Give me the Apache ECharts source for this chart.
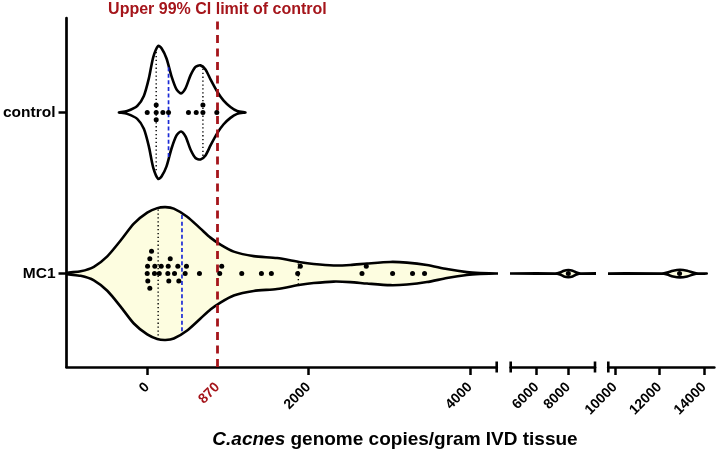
<!DOCTYPE html>
<html><head><meta charset="utf-8">
<script src="https://cdn.jsdelivr.net/npm/echarts@6/dist/echarts.min.js"></script>
<style>html,body{margin:0;padding:0;background:#fff}#c{width:728px;height:455px}</style>
</head><body><div id="c"></div>
<script>
// ---------------- data ----------------
const groups = ['MC1', 'control'];
const controlValues = [0, 111, 111, 111, 194, 264, 511, 607, 690, 690, 862];
const mc1Values = [0, 4, 7, 32, 32, 53, 90, 94, 149, 173, 255, 260, 267, 285, 338, 379, 391, 470, 486, 647,
  898, 923, 1171, 1415, 1538, 1864, 1897, 2661, 2714, 3040, 3287, 3436, 8000, 12900];
// violin outlines: x value and half width (in group-band units)
const controlDensityX = [-351, -248, -124, -42, 20, 74, 136, 177, 239, 301, 363, 418, 474, 536, 598, 660, 722, 784, 866, 944, 1031, 1114, 1217];
const controlDensityW = [0, 0.009, 0.040, 0.102, 0.211, 0.342, 0.413, 0.398, 0.335, 0.224, 0.143, 0.118, 0.149, 0.230, 0.283, 0.292, 0.267, 0.205, 0.130, 0.075, 0.034, 0.009, 0];
const mc1DensityX = [-1000, -825, -661, -495, -330, -166, 0, 124, 226, 329, 495, 660, 783, 907, 1072, 1319, 1609, 1898, 2062, 2309, 2516, 2723, 3011, 3218, 3465, 3713, 3960, 4125, 4332,
  7160, 7470, 7730, 8000, 8270, 8520, 8800, 12110, 12340, 12610, 12920, 13240, 13510, 13730, 14120];
const mc1DensityW = [0.004, 0.014, 0.042, 0.107, 0.205, 0.310, 0.378, 0.406, 0.412, 0.403, 0.353, 0.279, 0.223, 0.180, 0.136, 0.108, 0.096, 0.070, 0.059, 0.050, 0.053, 0.062, 0.072, 0.068, 0.053, 0.028, 0.009, 0.003, 0,
  0, 0.006, 0.018, 0.022, 0.018, 0.006, 0, 0, 0.006, 0.018, 0.024, 0.018, 0.006, 0, 0];
const segmentRanges = [[-1000, 4330], [4350, 9690], [9700, 14460]];
const tickValues = [[0, 2000, 4000], [6000, 8000], [10000, 12000, 14000]];
const ciLimit = 870;
const ciLabel = 'Upper 99% CI limit of control';
const axisTitleItalic = 'C.acnes';
const axisTitleRest = ' genome copies/gram IVD tissue';

// ---------------- layout ----------------
const FONT = "'Liberation Sans', Arial, Helvetica, sans-serif";
const RED = '#a5151b';
const Y_MIN = -0.58, Y_MAX = 1.586;
const GRID_TOP = 18, GRID_H = 349;
const gridBoxes = [{left: 66, width: 430.7}, {left: 510.7, width: 84.3}, {left: 608.3, width: 106}];
const caps = [[4330], [4350, 9690], [9700]];
const PX_PER_Y = GRID_H / (Y_MAX - Y_MIN);
const ROW = 7.4 / PX_PER_Y;
const DOT_GAP = 4.3;

function segOf(v) {
  for (let i = 0; i < segmentRanges.length; i++) if (v >= segmentRanges[i][0] && v <= segmentRanges[i][1]) return i;
  return -1;
}
function toPx(v) {
  const i = segOf(v); const r = segmentRanges[i]; const g = gridBoxes[i];
  return g.left + (v - r[0]) / (r[1] - r[0]) * g.width;
}
function swarm(values, yC) {
  const placed = [], out = [];
  values.slice().sort((a, b) => a - b).forEach(v => {
    const px = toPx(v);
    let row = 0;
    for (const r of [0, 1, -1, 2, -2, 3, -3, 4, -4]) {
      if (placed.every(p => p.r !== r || Math.abs(p.px - px) >= DOT_GAP)) { row = r; break; }
    }
    placed.push({px, r: row});
    out.push([v, yC + row * ROW]);
  });
  return out;
}
function quantile(vals, p) {
  const s = vals.slice().sort((a, b) => a - b), n = s.length;
  const pos = (n + 1) * p;
  if (pos <= 1) return s[0];
  if (pos >= n) return s[n - 1];
  const lo = Math.floor(pos), f = pos - lo;
  return s[lo - 1] + f * (s[lo] - s[lo - 1]);
}
function widthAt(xs, ws, v) {
  for (let i = 0; i < xs.length - 1; i++) {
    if (v >= xs[i] && v <= xs[i + 1]) return ws[i] + (ws[i + 1] - ws[i]) * (v - xs[i]) / (xs[i + 1] - xs[i]);
  }
  return 0;
}

const groupDefs = [
  {name: 'MC1', y: 0, values: mc1Values, xs: mc1DensityX, ws: mc1DensityW, fill: '#fdfde0'},
  {name: 'control', y: 1, values: controlValues, xs: controlDensityX, ws: controlDensityW, fill: '#ffffff'}
];

const grid = [], xAxis = [], yAxis = [], series = [];
gridBoxes.forEach((g, gi) => {
  grid.push({left: g.left, width: g.width, top: GRID_TOP, height: GRID_H, containLabel: false});
  const ticks = tickValues[gi];
  const labels = gi === 0 ? [0, ciLimit, 2000, 4000] : ticks;
  xAxis.push({
    gridIndex: gi, type: 'value', min: segmentRanges[gi][0], max: segmentRanges[gi][1],
    axisLine: {show: true, onZero: false, lineStyle: {color: '#000', width: 2.7}},
    splitLine: {show: false},
    axisTick: {show: true, length: 8, lineStyle: {color: '#000', width: 2.5}, customValues: ticks},
    axisLabel: {
      customValues: labels, rotate: 45, margin: 18, color: '#000', fontWeight: 'bold', fontSize: 14, fontFamily: FONT,
      formatter: v => v === ciLimit ? '{r|' + v + '}' : String(v),
      rich: {r: {color: RED, fontWeight: 'bold', fontSize: 14, fontFamily: FONT}}
    }
  });
  yAxis.push({
    gridIndex: gi, type: 'value', min: Y_MIN, max: Y_MAX, show: gi === 0,
    axisLine: {show: gi === 0, onZero: false, lineStyle: {color: '#000', width: 2.7}},
    splitLine: {show: false},
    axisTick: {show: gi === 0, length: 8, lineStyle: {color: '#000', width: 2.5}, customValues: [0, 1]},
    axisLabel: {show: gi === 0, customValues: [0, 1], formatter: v => groups[Math.round(v)] || '',
      color: '#000', fontWeight: 'bold', fontSize: 15.5, fontFamily: FONT, margin: 11}
  });

  // violins
  groupDefs.forEach(gd => {
    series.push({
      type: 'custom', xAxisIndex: gi, yAxisIndex: gi, clip: true, silent: true, z: 2,
      data: [[gd.xs[0], gd.y]],
      renderItem: (params, api) => {
        const top = gd.xs.map((x, i) => api.coord([x, gd.y + gd.ws[i]]));
        const bot = gd.xs.map((x, i) => api.coord([x, gd.y - gd.ws[i]])).reverse();
        return {type: 'polygon', shape: {points: top.concat(bot), smooth: 0.25},
          style: {fill: gd.fill, stroke: '#000', lineWidth: 2.6, lineJoin: 'round'}};
      }
    });
    // quartile and median lines
    const qs = [quantile(gd.values, 0.25), quantile(gd.values, 0.5), quantile(gd.values, 0.75)];
    series.push({
      type: 'custom', xAxisIndex: gi, yAxisIndex: gi, clip: true, silent: true, z: 3,
      data: qs.map((q, k) => [q, gd.y, k]),
      renderItem: (params, api) => {
        const q = api.value(0), k = api.value(2);
        const w = widthAt(gd.xs, gd.ws, q) - 1.5 / PX_PER_Y;
        const p1 = api.coord([q, gd.y + w]), p2 = api.coord([q, gd.y - w]);
        const median = k === 1;
        return {type: 'line', shape: {x1: p1[0], y1: p1[1], x2: p2[0], y2: p2[1]},
          style: median ? {stroke: '#1c2bd6', lineWidth: 1.7, lineDash: [4, 2.6]}
                        : {stroke: '#000', lineWidth: 1.4, lineDash: [1.3, 2.6]}};
      }
    });
  });

  // data points
  const pts = [];
  groupDefs.forEach(gd => swarm(gd.values, gd.y).forEach(p => { if (segOf(p[0]) === gi) pts.push(p); }));
  const sc = {
    type: 'scatter', xAxisIndex: gi, yAxisIndex: gi, data: pts, symbolSize: 5, z: 5, silent: true,
    itemStyle: {color: '#000', opacity: 1}
  };
  if (gi === 0) {
    sc.markLine = {
      silent: true, symbol: ['none', 'none'], animation: false,
      data: [{xAxis: ciLimit}],
      lineStyle: {color: RED, width: 2.8, type: [8, 5.5]},
      label: {show: true, position: 'end', formatter: ciLabel, color: RED, fontWeight: 'bold', fontSize: 16, fontFamily: FONT, distance: 0}
    };
  }
  series.push(sc);

  // axis break caps
  series.push({
    type: 'custom', xAxisIndex: gi, yAxisIndex: gi, clip: false, silent: true, z: 6,
    data: caps[gi].map(v => [v, Y_MIN]),
    renderItem: (params, api) => {
      const p = api.coord([api.value(0), api.value(1)]);
      return {type: 'line', shape: {x1: p[0], y1: p[1] - 5.5, x2: p[0], y2: p[1] + 5.5},
        style: {stroke: '#000', lineWidth: 2.6}};
    }
  });
});

const chart = echarts.init(document.getElementById('c'), null, {renderer: 'canvas'});
chart.setOption({
  animation: false,
  backgroundColor: '#fff',
  grid, xAxis, yAxis, series,
  graphic: [{
    type: 'text', x: 395, y: 440, silent: true,
    style: {
      text: '{i|' + axisTitleItalic + '}{n|' + axisTitleRest + '}',
      align: 'center', verticalAlign: 'middle', fill: '#000',
      rich: {
        i: {fontStyle: 'italic', fontWeight: 'bold', fontSize: 19, fontFamily: FONT, fill: '#000'},
        n: {fontWeight: 'bold', fontSize: 19, fontFamily: FONT, fill: '#000'}
      }
    }
  }]
});
</script></body></html>
